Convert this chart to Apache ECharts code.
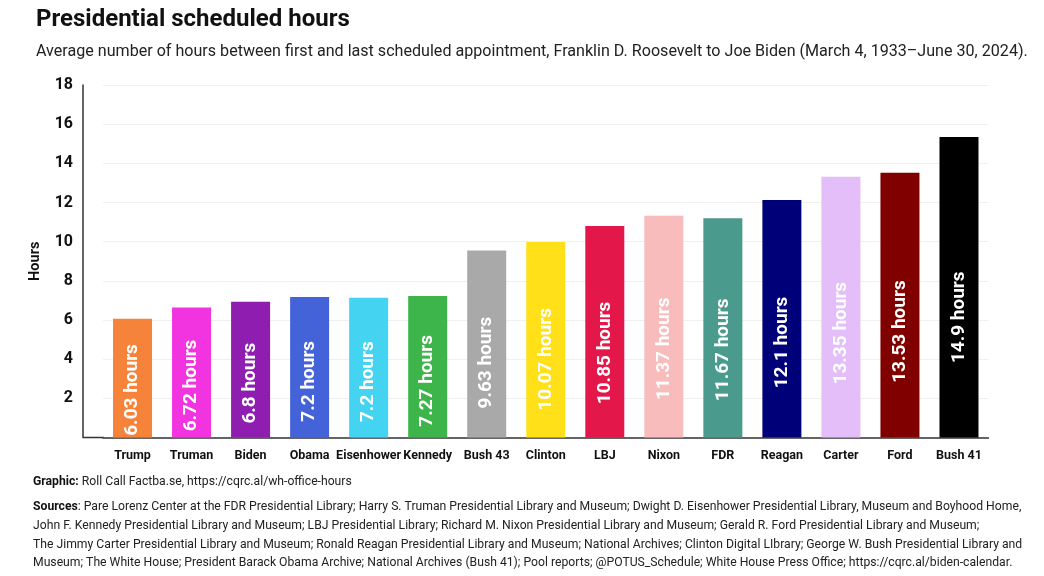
<!DOCTYPE html>
<html><head><meta charset="utf-8">
<script src="https://cdn.jsdelivr.net/npm/echarts@6/dist/echarts.min.js"></script>
<style>html,body{margin:0;padding:0;background:#fff}#c{width:1044px;height:576px}</style>
</head><body><div id="c"></div>
<script>
const presidents = ["Trump","Truman","Biden","Obama","Eisenhower","Kennedy","Bush 43","Clinton","LBJ","Nixon","FDR","Reagan","Carter","Ford","Bush 41"];
const barHours = [6.07,6.64,6.93,7.18,7.13,7.23,9.55,9.98,10.8,11.32,11.19,12.13,13.32,13.52,15.35];
const labelHours = ["6.03","6.72","6.8","7.2","7.2","7.27","9.63","10.07","10.85","11.37","11.67","12.1","13.35","13.53","14.9"];
const barColors = ["#F5843A","#F233E0","#8E1DB0","#4563D9","#45D3F2","#3DB54A","#A9A9A9","#FFE019","#E3174A","#F8BCBC","#4A9A8E","#000078","#E3BEF8","#800000","#000000"];
const yMin = 0, yMax = 18, yStep = 2;

const titleText = "Presidential scheduled hours";
const subtitleText = "Average number of hours between first and last scheduled appointment, Franklin D. Roosevelt to Joe Biden (March 4, 1933–June 30, 2024).";
const graphicLine = "{b|Graphic:} Roll Call Factba.se, https://cqrc.al/wh-office-hours";
const sourceLines = [
  "{b|Sources}: Pare Lorenz Center at the FDR Presidential Library; Harry S. Truman Presidential Library and Museum; Dwight D. Eisenhower Presidential Library, Museum and Boyhood Home,",
  "John F. Kennedy Presidential Library and Museum; LBJ Presidential Library; Richard M. Nixon Presidential Library and Museum; Gerald R. Ford Presidential Library and Museum;",
  "The Jimmy Carter Presidential Library and Museum; Ronald Reagan Presidential Library and Museum; National Archives; Clinton Digital LIbrary; George W. Bush Presidential Library and",
  "Museum; The White House; President Barack Obama Archive; National Archives (Bush 41); Pool reports; @POTUS_Schedule; White House Press Office; https://cqrc.al/biden-calendar."
];

const FONT = "Roboto, 'Noto Sans', sans-serif";
const chart = echarts.init(document.getElementById('c'));
chart.setOption({
  backgroundColor: '#fff',
  animation: false,
  title: [
    { text: titleText, left: 31, top: 3, textStyle: { fontFamily: FONT, fontSize: 24, fontWeight: 'bold', color: '#111' } },
    { text: subtitleText, left: 31, top: 39, textStyle: { fontFamily: FONT, fontSize: 16.1, fontWeight: 'normal', color: '#222' } }
  ],
  grid: { left: 103, right: 55.5, top: 85, bottom: 138.5, containLabel: false },
  xAxis: {
    type: 'category', data: presidents,
    axisLine: { show: true, lineStyle: { color: '#333', width: 1.5 } },
    axisTick: { show: false },
    axisLabel: { fontFamily: FONT, fontSize: 12.5, fontWeight: 'bold', color: '#111', margin: 12, interval: 0 }
  },
  yAxis: {
    type: 'value', min: yMin, max: yMax, interval: yStep, offset: 20,
    name: 'Hours', nameLocation: 'middle', nameGap: 40, nameRotate: 90,
    nameTextStyle: { fontFamily: FONT, fontSize: 14.5, fontWeight: 'bold', color: '#111' },
    axisLine: { show: true, lineStyle: { color: '#333', width: 1.5 } },
    axisTick: { show: false },
    axisLabel: { fontFamily: FONT, fontSize: 16, fontWeight: 'bold', color: '#111', margin: 10, formatter: v => v === 0 ? '' : v },
    splitLine: { show: true, lineStyle: { color: '#f0f0f0', width: 1 } }
  },
  series: [{
    type: 'bar', barWidth: 39,
    data: barHours.map((v, i) => ({ value: v, itemStyle: { color: barColors[i] } })),
    label: {
      show: true, position: ['50%', '60%'], rotate: 90, align: 'center', verticalAlign: 'middle',
      fontFamily: FONT, fontSize: 19, fontWeight: 'bold', color: '#fff',
      formatter: p => labelHours[p.dataIndex] + ' hours'
    }
  }],
  graphic: [
    { type: 'line', shape: { x1: 83, y1: 437.5, x2: 104, y2: 437.5 }, style: { stroke: '#333', lineWidth: 1.5 } },
    { type: 'text', left: 33, top: 476, style: { text: graphicLine, fontFamily: FONT, fontSize: 12.2, fill: '#222',
      rich: { b: { fontFamily: FONT, fontSize: 12.2, fontWeight: 'bold', fill: '#111' } } } },
    { type: 'text', left: 33, top: 498, style: { text: sourceLines.join('\n'), fontFamily: FONT, fontSize: 12.2, lineHeight: 18.6, fill: '#222',
      rich: { b: { fontFamily: FONT, fontSize: 12.2, fontWeight: 'bold', fill: '#111', lineHeight: 18.6 } } } }
  ]
});
</script></body></html>
